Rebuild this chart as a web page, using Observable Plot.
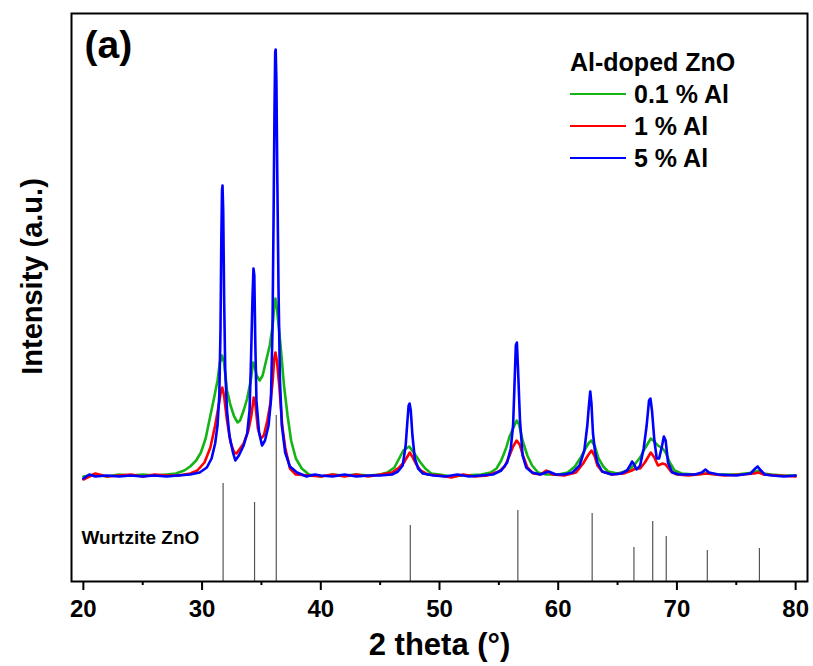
<!DOCTYPE html>
<html>
<head>
<meta charset="utf-8">
<script src="https://cdn.jsdelivr.net/npm/d3@7"></script>
<script src="https://cdn.jsdelivr.net/npm/@observablehq/plot@0.6"></script>
<style>
  body { margin: 0; background: #fff; }
  #wrap { position: relative; width: 813px; height: 666px; font-family: "Liberation Sans", Arial, sans-serif; }
  #legend { position: absolute; left: 570px; top: 46px; font-weight: bold; font-size: 25px; color: #000; line-height: 32px; }
  #legend .row { display: flex; align-items: center; }
  #legend .sw { width: 56px; height: 0; border-top: 2.5px solid; margin-right: 8px; }
</style>
</head>
<body>
<div id="wrap"><div id="legend"></div></div>
<script>
// 2θ (degrees) and intensity (a.u.)
const theta01 = [20,21,22,23,24,25,26,27,27.8,28.5,29,29.5,29.9,30.3,30.7,31,31.3,31.5,31.68,31.85,32.1,32.4,32.7,33,33.2,33.5,33.8,34.1,34.3,34.42,34.6,34.85,35.1,35.4,35.7,35.95,36.08,36.18,36.3,36.45,36.65,36.9,37.2,37.5,37.9,38.4,39,40,41,42,43,44,45,45.6,46.2,46.6,46.95,47.2,47.45,47.7,48,48.4,48.8,49.3,50,51,52,53.5,54.3,54.8,55.2,55.6,55.9,56.2,56.5,56.7,57,57.4,57.8,58.3,59,60,60.8,61.4,61.9,62.3,62.6,62.8,63.1,63.4,63.8,64.2,65,65.6,66.1,66.5,66.9,67.3,67.6,67.8,68.1,68.4,68.8,69.05,69.4,69.8,70.4,71.5,72.5,73.5,75,76.5,76.9,77.3,78,79,80];
const int01   = [105,107,105,107,106,107,106,107,108,111,115,121,129,143,166,183,201,219,226,219,191,176,165,159,161,171,183,201,219,216,206,201,206,221,236,256,276,283,273,256,231,196,166,141,123,113,107,105,107,106,107,106,107,109,114,123,131,133,135,131,126,119,113,108,107,105,106,107,109,113,121,133,145,153,161,157,141,126,116,109,107,107,109,115,124,133,139,141,135,123,115,110,108,110,113,118,124,133,139,143,140,136,133,129,119,111,108,107,108,107,107,109,111,108,107,106,106];

const theta1 = [20,21,22,23,24,25,26,27,28,29,29.6,30.2,30.7,31.1,31.4,31.6,31.7,31.85,32.1,32.4,32.7,32.9,33.2,33.5,33.9,34.15,34.35,34.5,34.7,34.95,35.2,35.5,35.75,35.95,36.08,36.18,36.3,36.5,36.75,37,37.4,37.9,39,40,41,42,43,44,45,46,46.6,47,47.3,47.5,47.7,48,48.4,49,50,51,52,53,54,55,55.5,55.9,56.2,56.5,56.75,57,57.4,57.9,58.5,59,59.5,60.5,61.5,62.1,62.5,62.8,63.05,63.3,63.7,64.5,65.5,66.2,66.5,66.9,67.3,67.6,67.8,68.1,68.4,68.8,69.05,69.5,70,71,72.5,74,75.5,76.5,76.9,77.3,78.5,80];
const int1   = [102,108,105,106,107,105,107,106,106,108,111,119,134,156,176,191,194,186,161,139,129,128,133,138,151,166,184,176,153,143,146,161,178,201,223,229,221,196,156,134,113,107,106,105,107,105,107,105,107,109,114,119,125,129,125,118,111,107,106,104,107,105,106,110,115,126,135,141,137,127,114,108,107,111,107,106,109,118,126,131,126,116,110,107,108,111,113,113,119,125,129,124,116,118,117,110,107,106,108,106,107,108,109,107,106,105];

const theta5 = [20,20.5,21,22,23,24,25,26,27,28,29,29.8,30.4,30.8,31.1,31.3,31.45,31.55,31.62,31.68,31.72,31.78,31.86,31.95,32.1,32.3,32.6,32.8,33.1,33.5,33.8,34,34.12,34.24,34.33,34.4,34.48,34.58,34.8,35.05,35.3,35.6,35.8,35.93,36.02,36.1,36.16,36.2,36.26,36.34,36.44,36.56,36.72,37,37.4,38,38.8,39.5,40,41,42,43,44,45,46,46.5,46.9,47.15,47.3,47.4,47.48,47.58,47.72,47.92,48.2,48.6,49.5,50.5,51.5,52.5,53.5,54.5,55.2,55.7,56,56.2,56.33,56.43,56.52,56.62,56.78,57,57.3,57.8,58.5,59.2,59.8,60.5,61.2,61.8,62.2,62.45,62.6,62.7,62.8,62.93,63.1,63.3,63.7,64.5,65.3,65.8,66.1,66.22,66.4,66.6,66.9,67.2,67.45,67.65,67.77,67.9,68.1,68.3,68.5,68.75,68.9,69.05,69.25,69.6,70.2,71.5,72.1,72.4,72.7,73.5,75,76.2,76.6,76.8,77,77.4,78,79,80];
const int5   = [103,107,105,106,105,106,105,106,105,106,107,109,114,123,138,156,186,251,341,391,396,371,281,211,171,146,129,121,126,136,148,171,221,281,313,306,241,181,149,136,141,156,181,251,361,471,529,532,501,401,291,201,156,129,115,109,105,107,106,105,107,105,106,106,107,110,116,136,161,176,178,171,146,123,113,108,106,105,107,105,106,107,111,119,133,156,201,236,239,211,161,126,114,109,107,110,107,107,109,116,131,156,178,190,178,148,130,119,110,107,108,111,117,120,117,112,116,133,156,181,183,171,141,123,123,136,145,141,119,109,107,107,109,112,109,107,106,108,113,115,112,107,106,105,106];

// Wurtzite ZnO reference lines
const refTheta = [31.77, 34.42, 36.25, 47.54, 56.6, 62.86, 66.38, 67.96, 69.1, 72.56, 76.95];
const refInt   = [98, 79, 166, 56, 71, 68, 34, 60, 45, 31, 33];

const seriesNames = ["0.1 % Al", "1 % Al", "5 % Al"];
const seriesColors = ["#14b414", "#ff0000", "#0000ff"];
const xTicks = [20, 30, 40, 50, 60, 70, 80];
const xMinorTicks = [25, 35, 45, 55, 65, 75];

const toRows = (t, v) => t.map((x, i) => ({theta: x, I: v[i]}));
const s01 = toRows(theta01, int01);
const s1 = toRows(theta1, int1);
const s5 = toRows(theta5, int5);
const refs = refTheta.map((x, i) => ({theta: x, I: refInt[i]}));

const font = "'Liberation Sans', Arial, sans-serif";

const chart = Plot.plot({
  width: 813,
  height: 666,
  marginLeft: 71,
  marginRight: 6,
  marginTop: 13,
  marginBottom: 85,
  style: {fontFamily: font, fontWeight: "bold", background: "white", color: "black"},
  x: {domain: [19, 81]},
  y: {domain: [0, 568], axis: null},
  marks: [
    Plot.ruleX(refs, {x: "theta", y1: 0, y2: "I", stroke: "#555", strokeWidth: 1.2}),
    Plot.line(s01, {x: "theta", y: "I", stroke: seriesColors[0], strokeWidth: 2.6}),
    Plot.line(s1, {x: "theta", y: "I", stroke: seriesColors[1], strokeWidth: 2.6}),
    Plot.line(s5, {x: "theta", y: "I", stroke: seriesColors[2], strokeWidth: 2.6}),
    Plot.frame({stroke: "black", strokeWidth: 2}),
    Plot.axisX({ticks: xTicks, tickSize: 9, tickPadding: 9, strokeWidth: 2, fontSize: 24, fontWeight: "bold", label: null}),
    Plot.axisX({ticks: xMinorTicks, tickSize: 4, strokeWidth: 2, tickFormat: () => "", label: null}),
    Plot.text(["2 theta (°)"], {frameAnchor: "bottom", dy: 64, fontSize: 31, fontWeight: "bold", lineAnchor: "middle"}),
    Plot.text(["Intensity (a.u.)"], {frameAnchor: "left", dx: -39, dy: -21, rotate: -90, fontSize: 29, fontWeight: "bold", textAnchor: "middle", lineAnchor: "middle"}),
    Plot.text(["(a)"], {frameAnchor: "top-left", dx: 13, dy: 17, fontSize: 39, fontWeight: "bold", textAnchor: "start", lineAnchor: "top"}),
    Plot.text(["Wurtzite ZnO"], {frameAnchor: "bottom-left", dx: 10, dy: -44, fontSize: 19, fontWeight: "bold", textAnchor: "start", lineAnchor: "middle"})
  ]
});

const wrap = document.getElementById("wrap");
wrap.insertBefore(chart, wrap.firstChild);

const legend = document.getElementById("legend");
const title = document.createElement("div");
title.textContent = "Al-doped ZnO";
legend.appendChild(title);
seriesNames.forEach((name, i) => {
  const row = document.createElement("div");
  row.className = "row";
  const sw = document.createElement("span");
  sw.className = "sw";
  sw.style.borderColor = seriesColors[i];
  const lab = document.createElement("span");
  lab.textContent = name;
  row.appendChild(sw);
  row.appendChild(lab);
  legend.appendChild(row);
});
</script>
</body>
</html>
